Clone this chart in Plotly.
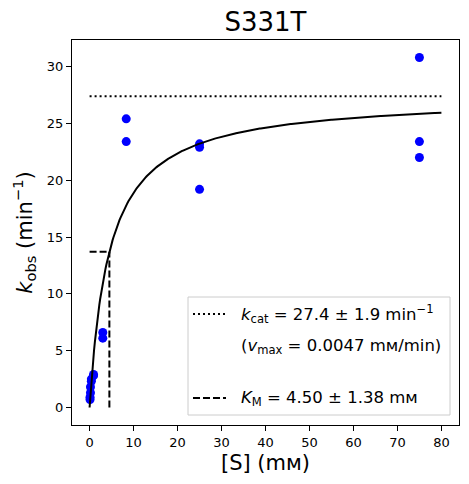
import numpy as np
import plotly.graph_objects as go

# Observed data
substrate_mM = [0.1, 0.1, 0.2, 0.2, 0.4, 0.4, 0.9, 0.9,
                3.0, 3.0, 8.33, 8.33, 25, 25, 25, 75, 75, 75]
kobs = [0.7, 0.9, 1.3, 1.8, 2.3, 2.5, 2.8, 2.9,
        6.6, 6.1, 25.4, 23.4, 23.2, 22.9, 19.2, 30.8, 23.4, 22.0]

# Fit parameters
kcat = 27.4
kcat_err = 1.9
KM = 4.50
KM_err = 1.38
vmax = 0.0047
S_max = 80

title = "S331T"
xlabel = "[S] (mм)"
ylabel = "<i>k</i><sub>obs</sub> (min<sup>−1</sup>)"
legend_kcat = f"<i>k</i><sub>cat</sub> = {kcat} ± {kcat_err} min<sup>−1</sup>"
legend_vmax = f"(<i>v</i><sub>max</sub> = {vmax} mм/min)"
legend_KM = f"<i>K</i><sub>M</sub> = {KM:.2f} ± {KM_err:.2f} mм"

font = "DejaVu Sans"
DOT = "2px,3px"
DASH = "7px,3px"

# page geometry: the browser body adds an 8 px margin around the figure
OFF = 8
PAGE_W, PAGE_H = 469, 484
PLOT_L, PLOT_R, PLOT_T, PLOT_B = 72, 459, 40, 425   # plot frame on the page
W, H = PAGE_W - OFF, PAGE_H - OFF
L, T = PLOT_L - OFF, PLOT_T - OFF
R = W - (PLOT_R - OFF)
B = H - (PLOT_B - OFF)
PW, PH = PLOT_R - PLOT_L, PLOT_B - PLOT_T


def px(x):
    return (x - PLOT_L) / PW


def py(y):
    return (PLOT_B - y) / PH


S_fit = np.linspace(0, S_max, 400)
k_fit = kcat * S_fit / (KM + S_fit)

fig = go.Figure()

fig.add_trace(go.Scatter(
    x=substrate_mM, y=kobs, mode="markers",
    marker=dict(color="blue", size=9), showlegend=False))

fig.add_trace(go.Scatter(
    x=S_fit, y=k_fit, mode="lines",
    line=dict(color="black", width=2), showlegend=False))

fig.add_trace(go.Scatter(
    x=[0, S_max], y=[kcat, kcat], mode="lines",
    line=dict(color="black", width=2, dash=DOT), showlegend=False))

fig.add_trace(go.Scatter(
    x=[0, KM, None, KM, KM], y=[kcat / 2, kcat / 2, None, 0, kcat / 2],
    mode="lines", line=dict(color="black", width=2, dash=DASH),
    showlegend=False))

# custom legend (box, handles, labels)
fig.add_shape(type="rect", xref="paper", yref="paper",
              x0=px(188), x1=px(450), y0=py(415), y1=py(297),
              line=dict(color="#cccccc", width=1), fillcolor="white",
              layer="above")
fig.add_shape(type="line", xref="paper", yref="paper",
              x0=px(193), x1=px(226), y0=py(314), y1=py(314),
              line=dict(color="black", width=2, dash=DOT), layer="above")
fig.add_shape(type="line", xref="paper", yref="paper",
              x0=px(193), x1=px(226), y0=py(398), y1=py(398),
              line=dict(color="black", width=2, dash=DASH), layer="above")
for txt, yy in [(legend_kcat, 314), (legend_vmax, 346), (legend_KM, 398)]:
    fig.add_annotation(text=txt, xref="paper", yref="paper",
                       x=px(239), y=py(yy), xanchor="left", yanchor="middle",
                       showarrow=False,
                       font=dict(family=font, size=16.5, color="black"))

axis_common = dict(
    showline=True, linecolor="black", linewidth=1, mirror=True,
    ticks="outside", ticklen=5, tickwidth=1, tickcolor="black",
    showgrid=False, zeroline=False, automargin=False,
    tickfont=dict(family=font, size=13, color="black"),
)

fig.update_layout(
    width=W, height=H,
    margin=dict(l=L, r=R, t=T, b=B, pad=0),
    paper_bgcolor="white", plot_bgcolor="white",
    font=dict(family=font, color="black"),
    showlegend=False,
    title=dict(text=title, x=0.5, xref="paper", xanchor="center",
               y=1 - (22 - OFF) / H, yref="container", yanchor="middle",
               font=dict(family=font, size=26, color="black")),
    xaxis=dict(range=[-4, 84], dtick=10,
               title=dict(text=xlabel, font=dict(family=font, size=21), standoff=6),
               **axis_common),
    yaxis=dict(range=[-1.54, 32.34], dtick=5,
               title=dict(text=ylabel, font=dict(family=font, size=21), standoff=8),
               **axis_common),
)

fig.write_html("out.html")
